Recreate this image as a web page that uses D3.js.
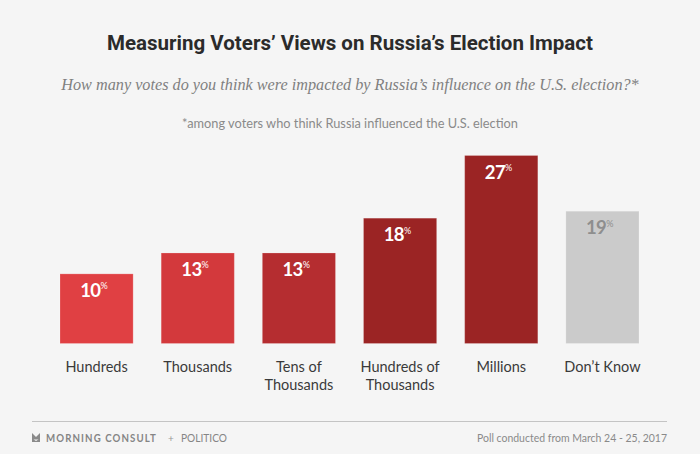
<!DOCTYPE html>
<html><head><meta charset="utf-8">
<script src="https://cdn.jsdelivr.net/npm/d3@7"></script>
<style>
html,body{margin:0;padding:0;background:#f5f5f5;}
svg{display:block;}
</style></head>
<body>
<svg id="chart" width="700" height="454"></svg>
<script>
const categories = [["Hundreds"], ["Thousands"], ["Tens of", "Thousands"], ["Hundreds of", "Thousands"], ["Millions"], ["Don\u2019t Know"]];
const values = [10, 13, 13, 18, 27, 19];
const barColors = ["#e04043", "#d3393c", "#b52d30", "#9b2424", "#9b2424", "#cbcbcb"];
const labelColors = ["#ffffff", "#ffffff", "#ffffff", "#ffffff", "#ffffff", "#8e8e8e"];
const titleText = "Measuring Voters\u2019 Views on Russia\u2019s Election Impact";
const subtitleText = "How many votes do you think were impacted by Russia\u2019s influence on the U.S. election?*";
const noteText = "*among voters who think Russia influenced the U.S. election";
const footerRight = "Poll conducted from March 24 - 25, 2017";

const svg = d3.select("#chart");
svg.append("rect").attr("width", 700).attr("height", 454).attr("fill", "#f5f5f5");

const keys = categories.map(c => c.join(" "));
const x = d3.scaleBand().domain(keys).range([60, 639]).paddingInner(0.277).paddingOuter(0);
const y = d3.scaleLinear().domain([0, 27]).range([343.5, 155.5]);

function fit(sel, w) {
  sel.attr("textLength", w).attr("lengthAdjust", "spacingAndGlyphs");
}
// scale font size so natural width matches target
function fitSize(sel, w) {
  const n = sel.node();
  const fs = +sel.attr("font-size");
  const len = n.getComputedTextLength();
  if (len > 0) sel.attr("font-size", (fs * w / len).toFixed(2));
}

// Title
svg.append("text").attr("x", 350).attr("y", 50).attr("text-anchor", "middle")
  .attr("font-family", "'Liberation Sans Narrow', 'Roboto', sans-serif").attr("font-weight", 700)
  .attr("font-size", 22).attr("fill", "#2b2b2b").text(titleText).call(fitSize, 486);

// Subtitle
svg.append("text").attr("x", 350).attr("y", 90).attr("text-anchor", "middle")
  .attr("font-family", "'Liberation Serif', serif").attr("font-style", "italic")
  .attr("font-size", 17).attr("fill", "#808080").text(subtitleText).call(fitSize, 578);

// Note
svg.append("text").attr("x", 350).attr("y", 128).attr("text-anchor", "middle")
  .attr("font-family", "Lato, sans-serif").attr("font-size", 12.5).attr("fill", "#8a8a8a")
  .text(noteText).call(fitSize, 336);

// Bars
const g = svg.append("g");
g.selectAll("rect.bar").data(values).join("rect").attr("class", "bar")
  .attr("x", (d, i) => x(keys[i])).attr("width", x.bandwidth())
  .attr("y", d => y(d)).attr("height", d => y(0) - y(d))
  .attr("fill", (d, i) => barColors[i])
  .attr("stroke", "rgba(255,255,255,0.2)").attr("stroke-width", 1);

// Value labels
const vl = g.selectAll("text.val").data(values).join("text").attr("class", "val")
  .attr("x", (d, i) => x(keys[i]) + x.bandwidth() / 2 - 3)
  .attr("y", d => y(d) + 23)
  .attr("text-anchor", "middle")
  .attr("font-family", "Lato, sans-serif").attr("font-weight", 700)
  .attr("font-size", 18.5).attr("fill", (d, i) => labelColors[i])
  .attr("letter-spacing", -0.6);
vl.append("tspan").text(d => d);
vl.append("tspan").attr("font-size", 9).attr("dy", -7.5).attr("font-weight", 400).text("%");

// Category labels
const cl = g.selectAll("text.cat").data(categories).join("text").attr("class", "cat")
  .attr("x", (d, i) => x(keys[i]) + x.bandwidth() / 2)
  .attr("y", 372).attr("text-anchor", "middle")
  .attr("font-family", "Lato, sans-serif").attr("font-size", 14.5).attr("fill", "#3a3a3a");
cl.selectAll("tspan").data(d => d).join("tspan")
  .attr("x", function () { return this.parentNode.getAttribute("x"); })
  .attr("dy", (d, i) => i === 0 ? 0 : 18).text(d => d);

// Footer
svg.append("line").attr("x1", 32).attr("x2", 667).attr("y1", 421.5).attr("y2", 421.5)
  .attr("stroke", "#c4c4c4").attr("stroke-width", 1);
svg.append("path").attr("d", "M32,433 L36,437 L40,433 L40,442 L32,442 Z M33.5,439.5 L36,441 L38.5,439.5")
  .attr("fill", "#8a8a8a");
svg.append("text").attr("x", 46).attr("y", 442).attr("font-family", "Lato, sans-serif")
  .attr("font-weight", 700).attr("font-size", 10.5).attr("fill", "#858585")
  .attr("letter-spacing", 1.2).text("MORNING CONSULT").call(fit, 111);
svg.append("text").attr("x", 168).attr("y", 442).attr("font-family", "Lato, sans-serif")
  .attr("font-size", 10).attr("fill", "#999").text("+");
svg.append("text").attr("x", 181).attr("y", 442).attr("font-family", "Lato, sans-serif")
  .attr("font-size", 11.5).attr("fill", "#858585").text("POLITICO").call(fit, 46);
svg.append("text").attr("x", 667).attr("y", 442).attr("text-anchor", "end")
  .attr("font-family", "Lato, sans-serif").attr("font-size", 11).attr("fill", "#8a8a8a")
  .text(footerRight).call(fitSize, 190);
</script>
</body></html>
